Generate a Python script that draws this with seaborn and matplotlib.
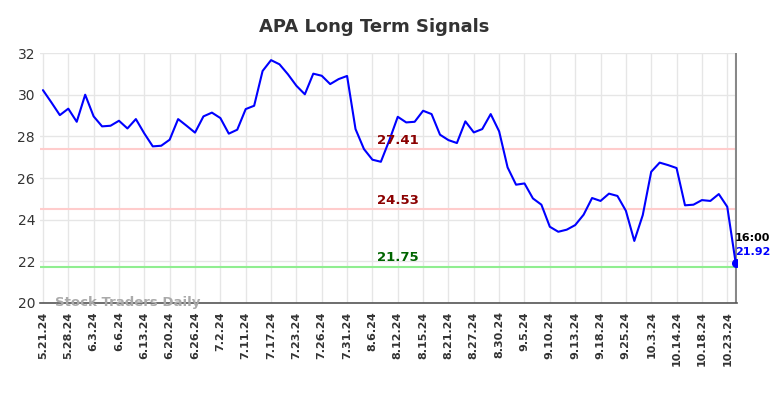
import matplotlib
matplotlib.use("Agg")
import matplotlib.pyplot as plt
import seaborn as sns
import pandas as pd
import numpy as np

tick_labels = ["5.21.24", "5.28.24", "6.3.24", "6.6.24", "6.13.24", "6.20.24", "6.26.24",
               "7.2.24", "7.11.24", "7.17.24", "7.23.24", "7.26.24", "7.31.24", "8.6.24",
               "8.12.24", "8.15.24", "8.21.24", "8.27.24", "8.30.24", "9.5.24", "9.10.24",
               "9.13.24", "9.18.24", "9.25.24", "10.3.24", "10.14.24", "10.18.24", "10.23.24"]

prices = [30.22, 29.63, 29.02, 29.33, 28.70, 30.00, 28.96, 28.48, 28.51, 28.75,
          28.38, 28.83, 28.14, 27.52, 27.55, 27.84, 28.83, 28.51, 28.18, 28.96,
          29.14, 28.88, 28.13, 28.32, 29.31, 29.47, 31.14, 31.66, 31.46, 30.98,
          30.43, 30.02, 31.01, 30.91, 30.51, 30.75, 30.90, 28.35, 27.39, 26.88,
          26.78, 27.81, 28.94, 28.67, 28.70, 29.23, 29.07, 28.08, 27.82, 27.68,
          28.72, 28.19, 28.35, 29.07, 28.24, 26.51, 25.68, 25.74, 25.02, 24.72,
          23.66, 23.42, 23.52, 23.74, 24.24, 25.04, 24.90, 25.25, 25.14, 24.43,
          22.98, 24.22, 26.30, 26.74, 26.62, 26.48, 24.69, 24.72, 24.94, 24.90,
          25.23, 24.62, 21.92]

signal_levels = [27.41, 24.53, 21.75]
signal_colors = ["#ffcccc", "#ffcccc", "#90ee90"]
signal_text_colors = ["#8b0000", "#8b0000", "#006400"]

last_time = "16:00"
tick_step = 3

df = pd.DataFrame({"idx": np.arange(len(prices)), "price": prices})

sns.set_style("white")
fig = plt.figure(figsize=(7.84, 3.98), dpi=100)
ax = fig.add_axes([0.051, 0.2387, 0.889, 0.628])

ticks = list(range(0, len(prices), tick_step))[:len(tick_labels)]
ax.set_xticks(ticks)
ax.set_xticklabels(tick_labels, rotation=90, fontsize=8, fontweight="bold",
                   color="#333333", family="DejaVu Sans")
ax.set_yticks(range(20, 33, 2))
ax.tick_params(axis="y", labelsize=10, colors="#333333", length=0)
ax.tick_params(axis="x", length=0, pad=6)
ax.grid(True, color="#e6e6e6", linewidth=1)
ax.set_axisbelow(True)

for lvl, c in zip(signal_levels, signal_colors):
    ax.axhline(lvl, color=c, linewidth=1.5, zorder=1)

sns.lineplot(data=df, x="idx", y="price", color="#0000ff", linewidth=1.5, ax=ax, zorder=3)

for lvl, tc in zip(signal_levels, signal_text_colors):
    ax.text(42, lvl + 0.1, f"{lvl:.2f}", color=tc, fontsize=9.5, fontweight="bold",
            ha="center", va="bottom", zorder=4)

n = len(prices) - 1
ax.axvline(n, color="#888888", linewidth=1.5, zorder=2)
ax.scatter([n], [prices[-1]], color="#0000ff", s=30, zorder=5)
ax.text(n - 0.1, prices[-1] + 0.95, last_time, color="black", fontsize=8,
        fontweight="bold", ha="left", va="bottom")
ax.text(n - 0.1, prices[-1] + 0.3, f"{prices[-1]:.2f}", color="#0000ff", fontsize=8,
        fontweight="bold", ha="left", va="bottom")

ax.text(1.4, 20.0, "Stock Traders Daily", color="#aaaaaa", fontsize=9.5,
        fontweight="bold", ha="left", va="center", zorder=6)

ax.set_xlim(-0.35, 82.15)
ax.set_ylim(20, 32)
ax.set_xlabel("")
ax.set_ylabel("")
for s in ["left", "right", "top"]:
    ax.spines[s].set_visible(False)
ax.spines["bottom"].set_color("#555555")
ax.spines["bottom"].set_linewidth(1.2)

fig.suptitle("APA Long Term Signals", x=0.477, y=0.955, fontsize=13, fontweight="bold",
             color="#333333")

fig.savefig("out.png", dpi=100)
